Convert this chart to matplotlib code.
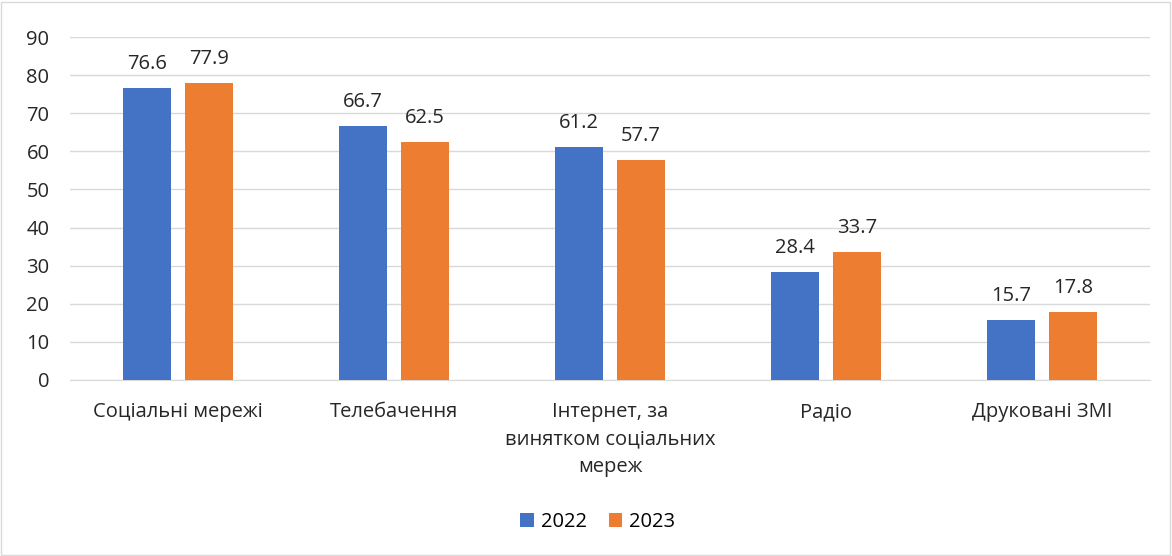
import numpy as np
import matplotlib
matplotlib.use('Agg')
import matplotlib.pyplot as plt
from matplotlib.patches import Rectangle

plt.rcParams['font.family'] = ['Open Sans', 'DejaVu Sans']

categories = ['Соціальні мережі', 'Телебачення', 'Інтернет, за\nвинятком соціальних\nмереж', 'Радіо', 'Друковані ЗМІ']
values_2022 = [76.6, 66.7, 61.2, 28.4, 15.7]
values_2023 = [77.9, 62.5, 57.7, 33.7, 17.8]
series_names = ['2022', '2023']
yticks = [0, 10, 20, 30, 40, 50, 60, 70, 80, 90]

blue = '#4472C4'
orange = '#ED7D31'
fs = 14.5

fig = plt.figure(figsize=(11.72, 5.56), dpi=100)
fig.patches.append(Rectangle((0.001, 0.002), 0.997, 0.995, transform=fig.transFigure,
                             fill=False, edgecolor='#D9D9D9', linewidth=1))
ax = fig.add_axes([0.060, 0.317, 0.921, 0.616])

x = np.arange(len(categories))
w = 0.222
gap = 0.065
b1 = ax.bar(x - (w + gap) / 2, values_2022, w, color=blue, label=series_names[0], zorder=3)
b2 = ax.bar(x + (w + gap) / 2, values_2023, w, color=orange, label=series_names[1], zorder=3)

for bars in (b1, b2):
    for r in bars:
        ax.annotate(f'{r.get_height():.1f}', (r.get_x() + r.get_width() / 2, r.get_height()),
                    xytext=(0, 10), textcoords='offset points', ha='center', va='bottom',
                    fontsize=fs, color='#262626')

ax.set_ylim(0, 90)
ax.set_xlim(-0.5, len(categories) - 0.5)
ax.set_yticks(yticks)
ax.yaxis.grid(True, color='#D9D9D9', linewidth=1, zorder=0)
ax.set_xticks(x)
ax.set_xticklabels(categories, fontsize=fs, color='#262626', linespacing=1.5)
ax.tick_params(axis='y', labelsize=fs, colors='#262626', length=0, pad=15)
ax.tick_params(axis='x', length=0, pad=16)
for s in ['top', 'right', 'left']:
    ax.spines[s].set_visible(False)
ax.spines['bottom'].set_color('#D9D9D9')

fig.legend(handles=[b1, b2], labels=series_names, loc='center', bbox_to_anchor=(0.510, 0.061),
           ncol=2, frameon=False, fontsize=fs, handlelength=0.65, handleheight=0.65,
           handletextpad=0.35, columnspacing=1.1)

fig.savefig('out.png', dpi=100)
